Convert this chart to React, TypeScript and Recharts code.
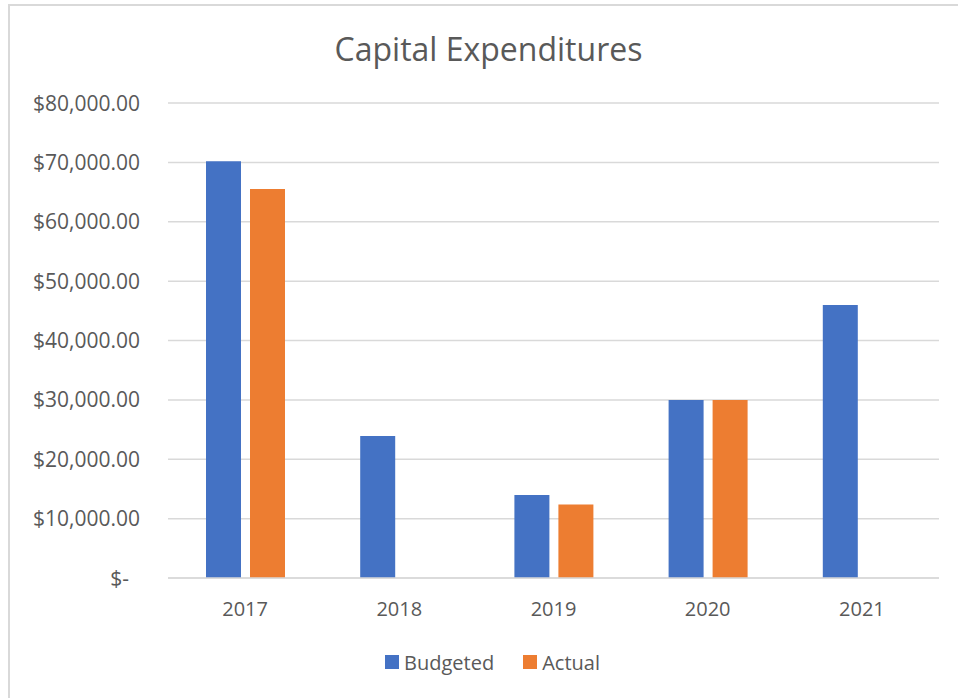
import { Bar, BarChart, CartesianGrid, Legend, XAxis, YAxis } from "recharts"

const YEARS = ["2017", "2018", "2019", "2020", "2021"]
const BUDGETED = [70200, 23900, 14000, 30000, 46000]
const ACTUAL: (number | null)[] = [65500, null, 12400, 30000, null]
const Y_TICKS = [0, 10000, 20000, 30000, 40000, 50000, 60000, 70000, 80000]
const SERIES_ORDER = ["Budgeted", "Actual"]

const FONT = "'Open Sans', sans-serif"
const TEXT = "#595959"
const GRID = "#d9d9d9"

const data = YEARS.map((year, i) => ({ year, budgeted: BUDGETED[i], actual: ACTUAL[i] }))

const money = (v: number) =>
  v === 0 ? "$-" : "$" + v.toLocaleString("en-US", { minimumFractionDigits: 2, maximumFractionDigits: 2 })

function YTick({ x, y, payload }: any) {
  const zero = payload.value === 0
  return (
    <text x={x} y={y} dx={zero ? -11 : 0} dy="0.36em" textAnchor="end" fill={TEXT} fontSize={21} fontFamily={FONT}>
      {money(payload.value)}
    </text>
  )
}

function XTick({ x, y, payload }: any) {
  return (
    <text x={x} y={y} dy={38} textAnchor="middle" fill={TEXT} fontSize={20} fontFamily={FONT}>
      {payload.value}
    </text>
  )
}

function LegendContent({ payload }: any) {
  const items = [...(payload ?? [])].sort(
    (a: any, b: any) => SERIES_ORDER.indexOf(a.value) - SERIES_ORDER.indexOf(b.value)
  )
  return (
    <div
      style={{
        display: "flex",
        justifyContent: "center",
        alignItems: "center",
        height: 28,
        paddingLeft: 46,
        fontFamily: FONT,
        fontSize: 20,
        color: TEXT,
      }}
    >
      {items.map((p: any, i: number) => (
        <span key={p.value} style={{ display: "flex", alignItems: "center", marginLeft: i ? 29 : 0 }}>
          <span style={{ width: 14, height: 14, background: p.color, marginRight: 5, display: "inline-block" }} />
          {p.value}
        </span>
      ))}
    </div>
  )
}

export default function App() {
  return (
    <div style={{ position: "fixed", left: 0, top: 0, width: 958, height: 698, overflow: "hidden", background: "#fff" }}>
      <div
        style={{
          position: "absolute",
          left: 8,
          top: 4,
          width: 950,
          height: 694,
          borderLeft: `2px solid ${GRID}`,
          borderTop: `2px solid ${GRID}`,
        }}
      />
      <div
        style={{
          position: "absolute",
          left: 0,
          top: 33,
          width: 958,
          paddingLeft: 19,
          boxSizing: "border-box",
          textAlign: "center",
          fontFamily: FONT,
          fontSize: 32,
          lineHeight: "32px",
          color: TEXT,
        }}
      >
        Capital Expenditures
      </div>
      <div style={{ position: "absolute", left: 0, top: 0 }}>
        <BarChart
          width={958}
          height={698}
          data={data}
          margin={{ top: 103, right: 19, bottom: 22, left: 0 }}
          barSize={35}
          barGap={9}
        >
          <CartesianGrid vertical={false} stroke={GRID} strokeWidth={1.5} />
          <XAxis
            dataKey="year"
            height={70}
            tick={<XTick />}
            tickLine={false}
            tickSize={0}
            tickMargin={0}
            axisLine={{ stroke: GRID, strokeWidth: 1.5 }}
          />
          <YAxis
            width={168}
            domain={[0, 80000]}
            ticks={Y_TICKS}
            interval={0}
            tick={<YTick />}
            tickLine={false}
            tickSize={0}
            tickMargin={28}
            axisLine={false}
          />
          <Legend verticalAlign="bottom" content={<LegendContent />} />
          <Bar dataKey="budgeted" name="Budgeted" fill="#4472C4" isAnimationActive={false} />
          <Bar dataKey="actual" name="Actual" fill="#ED7D31" isAnimationActive={false} />
        </BarChart>
      </div>
    </div>
  )
}
